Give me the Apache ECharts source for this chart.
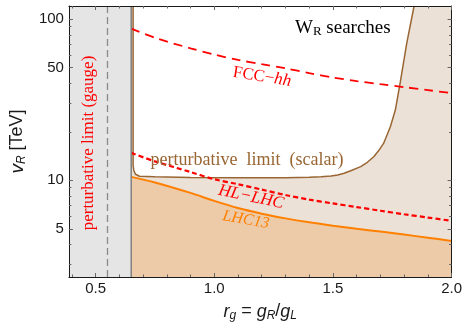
<!DOCTYPE html>
<html><head><meta charset="utf-8">
<script src="https://cdn.jsdelivr.net/npm/echarts@6/dist/echarts.min.js"></script>
<style>html,body{margin:0;padding:0;background:#fff}#c{width:465px;height:330px}</style>
</head><body><div id="c"></div>
<script>
// axis ranges and ticks
const xMin = 0.3875, xMax = 2.0;
const yMin = 2.508, yMax = 120.9;
const xMajorTicks = [0.5, 1.0, 1.5, 2.0];
const xMinorTicks = [0.4, 0.6, 0.7, 0.8, 0.9, 1.1, 1.2, 1.3, 1.4, 1.6, 1.7, 1.8, 1.9];
const yMajorTicks = [5, 10, 50, 100];
const yMinorTicks = [3, 4, 6, 7, 8, 9, 20, 30, 40, 60, 70, 80, 90];

// perturbative limit (gauge)
const gaugeLimitX = 0.65;
const gaugeDashedX = 0.55;

// search curves
const curveX = [0.65, 0.75, 0.9, 1.0, 1.1, 1.2, 1.3, 1.4, 1.5, 1.6, 1.7, 1.8, 1.9, 2.0];
const lhc13Y = [10.5, 9.7, 8.35, 7.45, 6.72, 6.2, 5.8, 5.48, 5.22, 5.0, 4.8, 4.6, 4.4, 4.2];
const hllhcY = [14.8, 13.1, 11.25, 10.15, 9.45, 8.75, 8.1, 7.58, 7.18, 6.82, 6.47, 6.15, 5.87, 5.6];
const fccY = [87.5, 76.7, 66.0, 60.4, 55.9, 52.6, 49.6, 46.3, 43.5, 41.3, 39.5, 37.9, 36.3, 34.8];

// perturbative limit (scalar) contour
const scalarX = [0.658, 0.658, 0.661, 0.668, 0.685, 0.75, 0.9, 1.1, 1.3, 1.4, 1.45, 1.492, 1.52, 1.547, 1.575, 1.617, 1.645, 1.672, 1.693, 1.714, 1.742, 1.763, 1.783, 1.811, 1.842];
const scalarY = [120.9, 12.4, 11.5, 10.9, 10.6, 10.5, 10.42, 10.38, 10.38, 10.45, 10.52, 10.63, 10.79, 11.05, 11.47, 12.15, 12.94, 14.0, 15.3, 17.0, 21.5, 27.3, 40.0, 70.9, 120.9];

const zip = (xs, ys) => xs.map((x, i) => [x, ys[i]]);

const RED = '#ff0000', ORANGE = '#ff8000', BROWN = '#996633';
const SANS = 'Liberation Sans', SERIF = 'Liberation Serif';

function rectSeries(x0, x1, fill, z) {
  return {
    type: 'custom', z: z, silent: true, clip: true,
    data: [[x0, yMin, x1, yMax]],
    renderItem: (params, api) => {
      const p0 = api.coord([api.value(0), api.value(3)]);
      const p1 = api.coord([api.value(2), api.value(1)]);
      return { type: 'rect', shape: { x: p0[0], y: p0[1], width: p1[0] - p0[0], height: p1[1] - p0[1] }, style: { fill: fill } };
    }
  };
}

function xAxisDef(pos, ticks, len, withLine, withLabel) {
  return {
    type: 'value', min: xMin, max: xMax, position: pos, z: 10,
    splitLine: { show: false },
    axisLine: { show: withLine, lineStyle: { color: '#1a1a1a', width: 1 } },
    axisTick: { show: true, inside: true, length: len, customValues: ticks, lineStyle: { color: '#666', width: 1 } },
    axisLabel: { show: withLabel, customValues: ticks, formatter: v => v.toFixed(1), margin: 4, color: '#1a1a1a', fontFamily: SANS, fontSize: 15 }
  };
}
function yAxisDef(pos, ticks, len, withLine, withLabel) {
  return {
    type: 'log', logBase: 10, min: yMin, max: yMax, position: pos, z: 10,
    splitLine: { show: false }, minorTick: { show: false },
    axisLine: { show: withLine, lineStyle: { color: '#1a1a1a', width: 1 } },
    axisTick: { show: true, inside: true, length: len, customValues: ticks, lineStyle: { color: '#666', width: 1 } },
    axisLabel: { show: withLabel, customValues: ticks, formatter: v => String(Math.round(v)), margin: 5, color: '#1a1a1a', fontFamily: SANS, fontSize: 15 }
  };
}

const xAxes = [
  xAxisDef('bottom', xMajorTicks, 4, true, true),
  xAxisDef('bottom', xMinorTicks, 2.5, false, false),
  xAxisDef('top', xMajorTicks, 4, true, false),
  xAxisDef('top', xMinorTicks, 2.5, false, false)
];
Object.assign(xAxes[0], {
  name: '{i|r}{s|g}{n| = }{i|g}{s|R}{n|/}{i|g}{s|L}',
  nameLocation: 'middle', nameGap: 24,
  nameTextStyle: {
    fontFamily: SANS, fontSize: 18, color: '#1a1a1a',
    rich: {
      i: { fontFamily: SANS, fontSize: 18, fontStyle: 'italic', color: '#1a1a1a' },
      s: { fontFamily: SANS, fontSize: 12, fontStyle: 'italic', color: '#1a1a1a', padding: [9, 0, 0, 0] },
      n: { fontFamily: SANS, fontSize: 18, color: '#1a1a1a' }
    }
  }
});
const yAxes = [
  yAxisDef('left', yMajorTicks, 4, true, true),
  yAxisDef('left', yMinorTicks, 2.5, false, false),
  yAxisDef('right', yMajorTicks, 4, true, false),
  yAxisDef('right', yMinorTicks, 2.5, false, false)
];
Object.assign(yAxes[0], {
  name: '{i|v}{s|R}{n| [TeV]}',
  nameLocation: 'middle', nameGap: 36,
  nameTextStyle: {
    fontFamily: SANS, fontSize: 18, color: '#1a1a1a',
    rich: {
      i: { fontFamily: SANS, fontSize: 19, fontStyle: 'italic', color: '#1a1a1a' },
      s: { fontFamily: SANS, fontSize: 12, fontStyle: 'italic', color: '#1a1a1a', padding: [9, 0, 0, 0] },
      n: { fontFamily: SANS, fontSize: 18, color: '#1a1a1a' }
    }
  }
});

const lineCommon = { type: 'line', showSymbol: false, symbol: 'none', silent: true, clip: true };

const option = {
  animation: false,
  backgroundColor: '#fff',
  grid: { left: 65, right: 13, top: 6, bottom: 53, containLabel: false },
  xAxis: xAxes,
  yAxis: yAxes,
  series: [
    rectSeries(gaugeLimitX, xMax, '#ebe1d7', 1),
    Object.assign({}, lineCommon, {
      z: 2, data: zip(curveX, lhc13Y), smooth: 0.3,
      lineStyle: { color: ORANGE, width: 2 },
      areaStyle: { color: '#edcaa8', opacity: 1, origin: 'start' }
    }),
    {
      type: 'custom', z: 3, silent: true, clip: true,
      data: [[scalarX[0], scalarY[0]]],
      renderItem: (params, api) => ({
        type: 'polygon',
        shape: { points: scalarX.map((x, i) => api.coord([x, scalarY[i]])) },
        style: { fill: '#ffffff' }
      })
    },
    Object.assign({}, lineCommon, {
      z: 4, data: zip(scalarX, scalarY),
      lineStyle: { color: BROWN, width: 1.5 }
    }),
    Object.assign({}, lineCommon, {
      z: 5, data: zip(curveX, hllhcY), smooth: 0.3,
      lineStyle: { color: RED, width: 2.2, type: [5, 3] }
    }),
    Object.assign({}, lineCommon, {
      z: 5, data: zip(curveX, fccY), smooth: 0.3,
      lineStyle: { color: RED, width: 1.8, type: [9, 6] }
    }),
    rectSeries(xMin, gaugeLimitX, '#e5e5e5', 6),
    Object.assign({}, lineCommon, {
      z: 7, data: [[gaugeLimitX, yMin], [gaugeLimitX, yMax]],
      lineStyle: { color: '#808080', width: 1.5 }
    }),
    Object.assign({}, lineCommon, {
      z: 7, data: [[gaugeDashedX, yMin], [gaugeDashedX, yMax]],
      lineStyle: { color: '#8a8a8a', width: 1.3, type: [7, 4] }
    })
  ],
  graphic: [
    {
      type: 'text', x: 295, y: 28, z: 20, silent: true,
      style: {
        text: '{a|W}{s|R}{a| searches}', align: 'left', verticalAlign: 'middle',
        textAlign: 'left', textVerticalAlign: 'middle',
        rich: {
          a: { fontFamily: SERIF, fontSize: 19, fill: '#000', color: '#000' },
          s: { fontFamily: SERIF, fontSize: 13, fill: '#000', color: '#000', padding: [8, 0, 0, 0] }
        }
      }
    },
    {
      type: 'text', x: 262, y: 77, z: 20, silent: true, rotation: -9 * Math.PI / 180,
      style: {
        text: '{a|FCC\u2212}{b|hh}', align: 'center', verticalAlign: 'middle',
        textAlign: 'center', textVerticalAlign: 'middle',
        rich: {
          a: { fontFamily: SERIF, fontSize: 17, fill: RED, color: RED },
          b: { fontFamily: SERIF, fontSize: 17, fontStyle: 'italic', fill: RED, color: RED }
        }
      }
    },
    {
      type: 'text', x: 247, y: 160, z: 20, silent: true,
      style: {
        text: 'perturbative  limit  (scalar)', align: 'center', verticalAlign: 'middle',
        textAlign: 'center', textVerticalAlign: 'middle',
        font: '18px "Liberation Serif"', fill: BROWN
      }
    },
    {
      type: 'text', x: 251, y: 197, z: 20, silent: true, rotation: -12 * Math.PI / 180,
      style: {
        text: 'HL\u2212LHC', align: 'center', verticalAlign: 'middle',
        textAlign: 'center', textVerticalAlign: 'middle',
        font: 'italic 17px "Liberation Serif"', fill: RED
      }
    },
    {
      type: 'text', x: 246, y: 220, z: 20, silent: true, rotation: -10 * Math.PI / 180,
      style: {
        text: 'LHC13', align: 'center', verticalAlign: 'middle',
        textAlign: 'center', textVerticalAlign: 'middle',
        font: 'italic 16px "Liberation Serif"', fill: ORANGE
      }
    },
    {
      type: 'text', x: 89, y: 143, z: 20, silent: true, rotation: Math.PI / 2,
      style: {
        text: 'perturbative limit (gauge)', align: 'center', verticalAlign: 'middle',
        textAlign: 'center', textVerticalAlign: 'middle',
        font: '17px "Liberation Serif"', fill: RED
      }
    }
  ]
};

const chart = echarts.init(document.getElementById('c'), null, { renderer: 'canvas' });
chart.setOption(option);
</script>
</body></html>
